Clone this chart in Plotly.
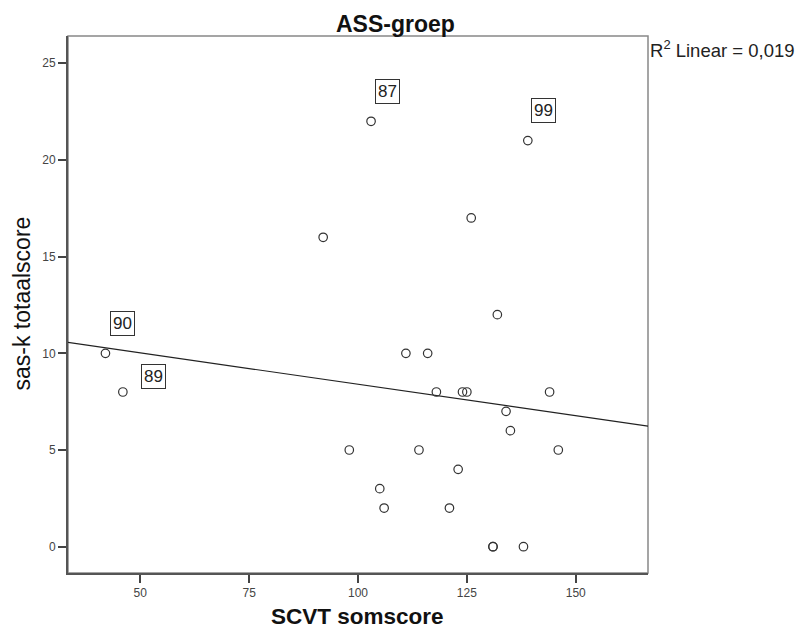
import numpy as np
import plotly.graph_objects as go

# data
scvt = [42, 46, 92, 98, 103, 105, 106, 111, 114, 116, 118, 121, 123, 124, 125,
        126, 131, 131, 132, 134, 135, 138, 139, 144, 146]
sask = [10, 8, 16, 5, 22, 3, 2, 10, 5, 10, 8, 2, 4, 8, 8,
        17, 0, 0, 12, 7, 6, 0, 21, 8, 5]
labelled_ids = ["87", "99", "90", "89"]
labelled_x = [103, 139, 42, 46]
labelled_y = [22, 21, 10, 8]
x_ticks = [50, 75, 100, 125, 150]
y_ticks = [0, 5, 10, 15, 20, 25]
x_range = [33.4, 166.6]
y_range = [-1.36, 26.41]

# label offsets in pixels relative to the point
label_shift_x = [16, 16, 17, 31]
label_shift_y = [30, 30, 30, 16]

W, H = 801, 631
ML, MR, MT, MB = 68, 153, 36, 58
PW, PH = W - ML - MR, H - MT - MB

slope, intercept = np.polyfit(scvt, sask, 1)
line_x = np.array(x_range)
line_y = intercept + slope * line_x

font_main = "Liberation Sans, Arial, sans-serif"

fig = go.Figure()
fig.add_trace(go.Scatter(x=line_x, y=line_y, mode="lines",
                         line=dict(color="#222222", width=1.2),
                         showlegend=False, hoverinfo="skip"))
fig.add_trace(go.Scatter(x=scvt, y=sask, mode="markers",
                         marker=dict(symbol="circle-open", size=8.5,
                                     line=dict(color="#333333", width=1.2),
                                     color="#333333"),
                         showlegend=False))

for lid, lx, ly, sx, sy in zip(labelled_ids, labelled_x, labelled_y, label_shift_x, label_shift_y):
    fig.add_annotation(x=lx, y=ly, text=lid, showarrow=False, xshift=sx, yshift=sy,
                       font=dict(family=font_main, size=17, color="#222222"),
                       bordercolor="#333333", borderwidth=1, borderpad=2,
                       bgcolor="white")

def px_x(p):
    return (p - ML) / PW

def px_y(p):
    return (H - MB - p) / PH

# chart title
fig.add_annotation(x=px_x(395.5), y=px_y(24), xref="paper", yref="paper",
                   xanchor="center", yanchor="middle", showarrow=False,
                   text="<b>ASS-groep</b>", font=dict(family=font_main, size=23, color="#111111"))
# R2 text
fig.add_annotation(x=px_x(648), y=px_y(49), xref="paper", yref="paper",
                   xanchor="left", yanchor="middle", showarrow=False,
                   text="R<sup>2</sup> Linear = 0,019",
                   font=dict(family=font_main, size=18.5, color="#222222"))
# axis titles
fig.add_annotation(x=px_x(357.5), y=px_y(616), xref="paper", yref="paper",
                   xanchor="center", yanchor="middle", showarrow=False,
                   text="<b>SCVT somscore</b>", font=dict(family=font_main, size=22.5, color="#111111"))
fig.add_annotation(x=px_x(22), y=px_y(303.5), xref="paper", yref="paper",
                   xanchor="center", yanchor="middle", showarrow=False, textangle=-90,
                   text="sas-k totaalscore", font=dict(family=font_main, size=23, color="#111111"))

fig.update_layout(
    width=W, height=H,
    margin=dict(l=ML, r=MR, t=MT, b=MB, autoexpand=False),
    paper_bgcolor="white", plot_bgcolor="white",
    font=dict(family=font_main, color="#222222"),
    xaxis=dict(range=x_range, tickvals=x_ticks, showgrid=False, zeroline=False,
               showline=True, linecolor="#555555", linewidth=2,
               ticks="outside", ticklen=8, tickwidth=2, tickcolor="#444444",
               tickfont=dict(size=12, color="#444444")),
    yaxis=dict(range=y_range, tickvals=y_ticks, showgrid=False, zeroline=False,
               showline=True, linecolor="#555555", linewidth=2,
               ticks="outside", ticklen=8, tickwidth=2, tickcolor="#444444",
               tickfont=dict(size=12, color="#444444")),
)

fig.add_shape(type="rect", xref="paper", yref="paper", x0=0, y0=0, x1=1, y1=1,
              line=dict(color="#888888", width=1.5), layer="below")

fig.write_html("out.html", config={"displayModeBar": False},
               post_script="document.body.style.margin='0';")
